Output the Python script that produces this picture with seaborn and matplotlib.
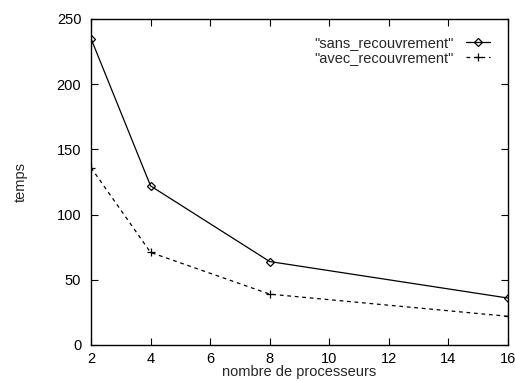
import matplotlib
matplotlib.use("Agg")
import matplotlib.pyplot as plt
import seaborn as sns
import pandas as pd

processeurs = [2, 4, 8, 16]
sans_recouvrement = [235, 122, 64, 36]
avec_recouvrement = [136, 71, 39, 22]

sns.set_theme(style="ticks")
plt.rcParams['font.family'] = ['Liberation Sans', 'DejaVu Sans']

df = pd.DataFrame({
    'nombre de processeurs': processeurs * 2,
    'temps': sans_recouvrement + avec_recouvrement,
    'serie': ['"sans_recouvrement"'] * 4 + ['"avec_recouvrement"'] * 4,
})

fig = plt.figure(figsize=(5.15, 3.81), dpi=100)
ax = fig.add_axes([91 / 515, 1 - 345 / 381, (508 - 91) / 515, (345 - 19) / 381])

styles = {
    '"sans_recouvrement"': dict(marker='D', linestyle='-', markersize=4),
    '"avec_recouvrement"': dict(marker='+', linestyle=(0, (3, 3)), markersize=6),
}
for name, sub in df.groupby('serie', sort=False):
    st = styles[name]
    sns.lineplot(data=sub, x='nombre de processeurs', y='temps', ax=ax,
                 color='black', linewidth=0.9, marker=st['marker'],
                 markersize=st['markersize'], markerfacecolor='none',
                 markeredgecolor='black', markeredgewidth=0.9,
                 linestyle=st['linestyle'], label=name)

ax.set_xlim(2, 16)
ax.set_ylim(0, 250)
ax.set_xticks(range(2, 17, 2))
ax.set_yticks(range(0, 251, 50))
ax.tick_params(direction='in', length=5, width=0.8, labelsize=10.5,
               top=True, right=True, colors='black')
ax.tick_params(axis='x', pad=5)
ax.tick_params(axis='y', pad=7)
for s in ax.spines.values():
    s.set_linewidth(1.0)
    s.set_color('black')
ax.set_xlabel('nombre de processeurs', fontsize=10.5)
ax.xaxis.set_label_coords(0.5, -0.06)
ax.set_ylabel('temps', fontsize=10.5, labelpad=21)

leg = ax.legend(loc='upper right', frameon=False, markerfirst=False,
                fontsize=10.5, handlelength=1.7, borderaxespad=0.8,
                labelspacing=0.05, handletextpad=0.8,
                bbox_to_anchor=(1.0, 1.0))
for t in leg.get_texts():
    t.set_ha('right')

fig.savefig('out.png', dpi=100)
